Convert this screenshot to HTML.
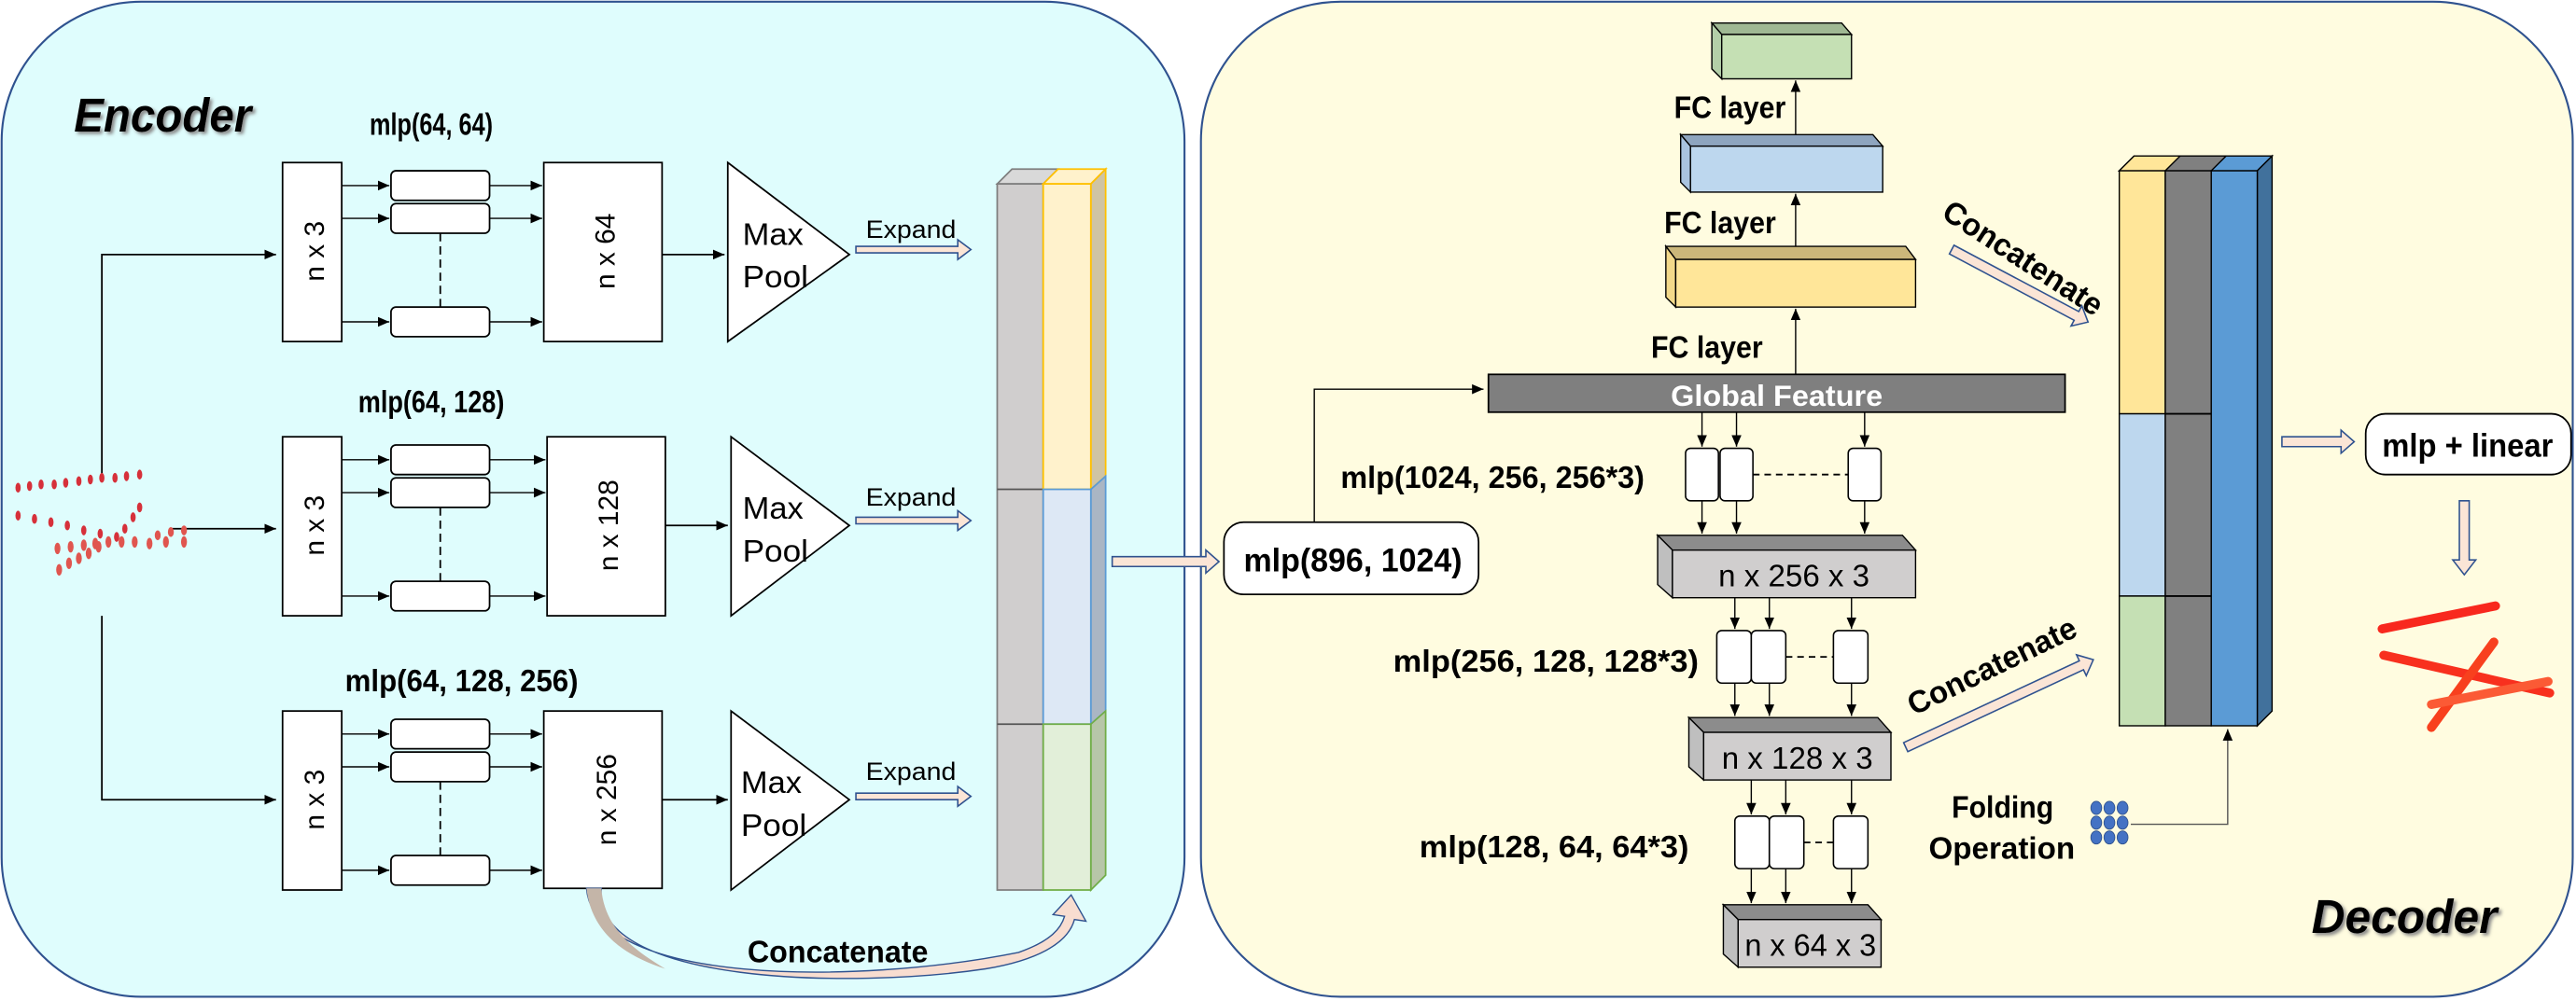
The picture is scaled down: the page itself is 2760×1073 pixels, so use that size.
<!DOCTYPE html>
<html><head><meta charset="utf-8"><style>
html,body{margin:0;padding:0;background:#fff;}
svg{display:block}
text{font-family:"Liberation Sans",sans-serif;}
</style></head><body>
<svg width="2760" height="1073" viewBox="0 0 1568 609.6" preserveAspectRatio="none" xmlns="http://www.w3.org/2000/svg">
<defs>
<marker id="ah" markerWidth="8" markerHeight="8" refX="7" refY="4" orient="auto" markerUnits="userSpaceOnUse"><path d="M0,1 L7,4 L0,7 Z" fill="#000"/></marker>
<filter id="sh"><feDropShadow dx="1.5" dy="1.5" stdDeviation="1" flood-color="#888"/></filter>
</defs>
<rect width="1568" height="609.6" fill="#fff"/>
<rect x="1" y="1" width="720" height="606" rx="85" fill="#dffdfd" stroke="#2f528f" stroke-width="1.2"/>
<rect x="731" y="1" width="835" height="606" rx="85" fill="#fffce0" stroke="#2f528f" stroke-width="1.2"/>

<text x="45" y="80" font-size="29" font-weight="bold" font-style="italic" filter="url(#sh)" textLength="108" lengthAdjust="spacingAndGlyphs">Encoder</text>
<text x="1407" y="568" font-size="29" font-weight="bold" font-style="italic" filter="url(#sh)" textLength="113" lengthAdjust="spacingAndGlyphs">Decoder</text>

<g stroke="#000" stroke-width="1" fill="none">
<path d="M62,290 V155 H168" marker-end="url(#ah)"/>
<path d="M62,375 V487 H168" marker-end="url(#ah)"/>
<path d="M105,322 H168" marker-end="url(#ah)"/>
</g>

<!-- row 1 -->
<text x="225" y="82" font-size="19" font-weight="bold" textLength="75" lengthAdjust="spacingAndGlyphs">mlp(64, 64)</text>
<rect x="172" y="99" width="36" height="109" fill="#fff" stroke="#000"/>
<text transform="translate(197,153) rotate(-90)" text-anchor="middle" font-size="17">n x 3</text>
<g stroke="#000" fill="#fff"><rect x="238" y="104" width="60" height="18" rx="3"/><rect x="238" y="124" width="60" height="18" rx="3"/><rect x="238" y="187" width="60" height="18" rx="3"/></g>
<path d="M268,142 V187" stroke="#000" stroke-dasharray="5,3"/>
<g stroke="#000" stroke-width="0.8" marker-end="url(#ah)"><path d="M208,113 H237"/><path d="M208,133 H237"/><path d="M208,196 H237"/><path d="M298,113 H330"/><path d="M298,133 H330"/><path d="M298,196 H330"/></g>
<rect x="331" y="99" width="72" height="109" fill="#fff" stroke="#000"/>
<text transform="translate(374,153) rotate(-90)" text-anchor="middle" font-size="17">n x 64</text>
<path d="M403,155 H441" stroke="#000" marker-end="url(#ah)"/>
<path d="M443,99 L517,155 L443,208 Z" fill="#fff" stroke="#000"/>
<text x="452" y="149" font-size="19" textLength="37" lengthAdjust="spacingAndGlyphs">Max</text><text x="452" y="175" font-size="19" textLength="40" lengthAdjust="spacingAndGlyphs">Pool</text>
<text x="527" y="145" font-size="15" textLength="55" lengthAdjust="spacingAndGlyphs">Expand</text>
<path d="M521,150 H583 V146 L591,152 L583,158 V154 H521 Z" fill="#fbe5d6" stroke="#2f528f" stroke-width="0.9"/>

<!-- row 2 -->
<text x="218" y="251" font-size="19" font-weight="bold" textLength="89" lengthAdjust="spacingAndGlyphs">mlp(64, 128)</text>
<rect x="172" y="266" width="36" height="109" fill="#fff" stroke="#000"/>
<text transform="translate(197,320) rotate(-90)" text-anchor="middle" font-size="17">n x 3</text>
<g stroke="#000" fill="#fff"><rect x="238" y="271" width="60" height="18" rx="3"/><rect x="238" y="291" width="60" height="18" rx="3"/><rect x="238" y="354" width="60" height="18" rx="3"/></g>
<path d="M268,309 V354" stroke="#000" stroke-dasharray="5,3"/>
<g stroke="#000" stroke-width="0.8" marker-end="url(#ah)"><path d="M208,280 H237"/><path d="M208,300 H237"/><path d="M208,363 H237"/><path d="M298,280 H332"/><path d="M298,300 H332"/><path d="M298,363 H332"/></g>
<rect x="333" y="266" width="72" height="109" fill="#fff" stroke="#000"/>
<text transform="translate(376,320) rotate(-90)" text-anchor="middle" font-size="17">n x 128</text>
<path d="M405,320 H443" stroke="#000" marker-end="url(#ah)"/>
<path d="M445,266 L517,320 L445,375 Z" fill="#fff" stroke="#000"/>
<text x="452" y="316" font-size="19" textLength="37" lengthAdjust="spacingAndGlyphs">Max</text><text x="452" y="342" font-size="19" textLength="40" lengthAdjust="spacingAndGlyphs">Pool</text>
<text x="527" y="308" font-size="15" textLength="55" lengthAdjust="spacingAndGlyphs">Expand</text>
<path d="M521,315 H583 V311 L591,317 L583,323 V319 H521 Z" fill="#fbe5d6" stroke="#2f528f" stroke-width="0.9"/>

<!-- row 3 -->
<text x="210" y="421" font-size="19" font-weight="bold" textLength="142" lengthAdjust="spacingAndGlyphs">mlp(64, 128, 256)</text>
<rect x="172" y="433" width="36" height="109" fill="#fff" stroke="#000"/>
<text transform="translate(197,487) rotate(-90)" text-anchor="middle" font-size="17">n x 3</text>
<g stroke="#000" fill="#fff"><rect x="238" y="438" width="60" height="18" rx="3"/><rect x="238" y="458" width="60" height="18" rx="3"/><rect x="238" y="521" width="60" height="18" rx="3"/></g>
<path d="M268,476 V521" stroke="#000" stroke-dasharray="5,3"/>
<g stroke="#000" stroke-width="0.8" marker-end="url(#ah)"><path d="M208,447 H237"/><path d="M208,467 H237"/><path d="M208,530 H237"/><path d="M298,447 H330"/><path d="M298,467 H330"/><path d="M298,530 H330"/></g>
<rect x="331" y="433" width="72" height="108" fill="#fff" stroke="#000"/>
<text transform="translate(375,487) rotate(-90)" text-anchor="middle" font-size="17">n x 256</text>
<path d="M403,487 H443" stroke="#000" marker-end="url(#ah)"/>
<path d="M445,433 L517,487 L445,542 Z" fill="#fff" stroke="#000"/>
<text x="451" y="483" font-size="19" textLength="37" lengthAdjust="spacingAndGlyphs">Max</text><text x="451" y="509" font-size="19" textLength="40" lengthAdjust="spacingAndGlyphs">Pool</text>
<text x="527" y="475" font-size="15" textLength="55" lengthAdjust="spacingAndGlyphs">Expand</text>
<path d="M521,483 H583 V479 L591,485 L583,491 V487 H521 Z" fill="#fbe5d6" stroke="#2f528f" stroke-width="0.9"/>

<!-- point cloud -->
<g fill="#d6303a">
<ellipse cx="11" cy="297" rx="1.6" ry="3"/><ellipse cx="18" cy="296" rx="1.6" ry="3"/><ellipse cx="25" cy="295" rx="1.6" ry="3"/><ellipse cx="33" cy="295" rx="1.6" ry="3"/><ellipse cx="40" cy="294" rx="1.6" ry="3"/><ellipse cx="48" cy="293" rx="1.6" ry="3"/><ellipse cx="55" cy="292" rx="1.6" ry="3"/><ellipse cx="62" cy="291" rx="1.6" ry="3"/><ellipse cx="70" cy="291" rx="1.6" ry="3"/><ellipse cx="77" cy="290" rx="1.6" ry="3"/><ellipse cx="85" cy="289" rx="1.6" ry="3"/>
<ellipse cx="11" cy="314" rx="1.6" ry="3"/><ellipse cx="21" cy="316" rx="1.6" ry="3"/><ellipse cx="31" cy="318" rx="1.6" ry="3"/><ellipse cx="41" cy="320" rx="1.6" ry="3"/><ellipse cx="51" cy="323" rx="1.6" ry="3"/><ellipse cx="61" cy="325" rx="1.6" ry="3"/><ellipse cx="71" cy="327" rx="1.6" ry="3"/><ellipse cx="76" cy="322" rx="1.6" ry="3"/><ellipse cx="81" cy="315" rx="1.6" ry="3"/><ellipse cx="85" cy="309" rx="1.6" ry="3"/>
</g>
<g fill="#e0554f">
<ellipse cx="35" cy="334" rx="1.8" ry="3.5"/><ellipse cx="43" cy="333" rx="1.8" ry="3.5"/><ellipse cx="51" cy="332" rx="1.8" ry="3.5"/><ellipse cx="58" cy="331" rx="1.8" ry="3.5"/><ellipse cx="66" cy="330" rx="1.8" ry="3.5"/><ellipse cx="74" cy="330" rx="1.8" ry="3.5"/><ellipse cx="82" cy="330" rx="1.8" ry="3.5"/><ellipse cx="91" cy="331" rx="1.8" ry="3.5"/><ellipse cx="101" cy="330" rx="1.8" ry="3.5"/><ellipse cx="112" cy="330" rx="1.8" ry="3.5"/><ellipse cx="112" cy="323" rx="1.8" ry="3"/><ellipse cx="104" cy="324" rx="1.8" ry="3"/><ellipse cx="96" cy="326" rx="1.8" ry="3"/>
<ellipse cx="36" cy="347" rx="1.8" ry="3.5"/><ellipse cx="42" cy="343" rx="1.8" ry="3.5"/><ellipse cx="48" cy="340" rx="1.8" ry="3.5"/><ellipse cx="54" cy="337" rx="1.8" ry="3.5"/><ellipse cx="60" cy="333" rx="1.8" ry="3.5"/>
</g>

<!-- concat column encoder -->
<path d="M607,112 L616,103 L644,103 L635,112 Z" fill="#d9d9d9" stroke="#7f7f7f"/>
<rect x="607" y="112" width="28" height="430" fill="#d0cece" stroke="#7f7f7f"/>
<path d="M607,298 H635 M607,441 H635" stroke="#555" stroke-width="1"/>
<path d="M635,112 L644,103 L673,103 L664,112 Z" fill="#fff2cc" stroke="#ffc000"/>
<path d="M664,112 L673,103 L673,290 L664,298 Z" fill="#cfc4a4" stroke="#ffc000"/>
<rect x="635" y="112" width="29" height="186" fill="#fff2cc" stroke="#ffc000"/>
<path d="M664,298 L673,290 L673,433 L664,441 Z" fill="#aab6c4" stroke="#5b9bd5"/>
<rect x="635" y="298" width="29" height="143" fill="#dde8f5" stroke="#5b9bd5"/>
<path d="M664,441 L673,433 L673,533 L664,542 Z" fill="#b7c6a8" stroke="#70ad47"/>
<rect x="635" y="441" width="29" height="101" fill="#e2efd9" stroke="#70ad47"/>

<!-- curved concatenate arrow -->
<path d="M357,541 C362,600 520,600 620,580 C640,573 646,565 648,558 L641,557 L652,545 L661,561 L654,560 C650,575 630,585 600,590 C520,602 360,600 366,541 Z" fill="#f8ddd0" stroke="#2f528f" stroke-width="0.8"/>
<path d="M357,541 C360,568 380,582 405,590 C385,578 368,565 366,541 Z" fill="#c4b5a8"/>
<text x="455" y="586" font-size="19" font-weight="bold" textLength="110" lengthAdjust="spacingAndGlyphs">Concatenate</text>

<!-- to decoder -->
<path d="M677,339 H734 V335 L742,342 L734,349 V345 H677 Z" fill="#fbe5d6" stroke="#2f528f" stroke-width="0.9"/>
<rect x="745" y="318" width="155" height="44" rx="12" fill="#fff" stroke="#000"/>
<text x="757" y="348" font-size="20" font-weight="bold" textLength="133" lengthAdjust="spacingAndGlyphs">mlp(896, 1024)</text>
<path d="M800,318 V237 H903" stroke="#000" stroke-width="0.8" fill="none" marker-end="url(#ah)"/>

<!-- global feature -->
<rect x="906" y="228" width="351" height="23" fill="#7f7f7f" stroke="#000"/>
<text x="1017" y="247" font-size="18" font-weight="bold" fill="#fff" textLength="129" lengthAdjust="spacingAndGlyphs">Global Feature</text>

<!-- FC stack -->
<g stroke="#000" stroke-width="0.8" marker-end="url(#ah)">
<path d="M1093,228 V188"/><path d="M1093,150 V118"/><path d="M1093,82 V49"/>
</g>
<path d="M1014,150 L1020,158 H1166 L1160,150 Z" fill="#cbb77a" stroke="#000" stroke-width="0.8"/>
<path d="M1014,150 V181 L1020,187 V158 Z" fill="#f3d98a" stroke="#000" stroke-width="0.8"/>
<rect x="1020" y="158" width="146" height="29" fill="#ffe699" stroke="#000" stroke-width="0.8"/>
<text x="1005" y="218" font-size="19" font-weight="bold" textLength="68" lengthAdjust="spacingAndGlyphs">FC layer</text>
<path d="M1023,82 L1029,89 H1146 L1140,82 Z" fill="#8ea5bf" stroke="#000" stroke-width="0.8"/>
<path d="M1023,82 V111 L1029,117 V89 Z" fill="#a9c3df" stroke="#000" stroke-width="0.8"/>
<rect x="1029" y="89" width="117" height="28" fill="#bdd7ee" stroke="#000" stroke-width="0.8"/>
<text x="1013" y="142" font-size="19" font-weight="bold" textLength="68" lengthAdjust="spacingAndGlyphs">FC layer</text>
<path d="M1042,14 L1048,21 H1127 L1121,14 Z" fill="#9fb893" stroke="#000" stroke-width="0.8"/>
<path d="M1042,14 V42 L1048,48 V21 Z" fill="#b3cfa8" stroke="#000" stroke-width="0.8"/>
<rect x="1048" y="21" width="79" height="27" fill="#c5e0b4" stroke="#000" stroke-width="0.8"/>
<text x="1019" y="72" font-size="19" font-weight="bold" textLength="68" lengthAdjust="spacingAndGlyphs">FC layer</text>

<!-- mlp groups -->
<g stroke="#000" stroke-width="0.8" marker-end="url(#ah)">
<path d="M1036,251 V272"/><path d="M1057,251 V272"/><path d="M1135,251 V272"/><path d="M1036,305 V325"/><path d="M1057,305 V325"/><path d="M1135,305 V325"/>
<path d="M1056,364 V383"/><path d="M1077,364 V383"/><path d="M1127,364 V383"/><path d="M1056,416 V436"/><path d="M1077,416 V436"/><path d="M1127,416 V436"/>
<path d="M1066,475 V496"/><path d="M1087,475 V496"/><path d="M1127,475 V496"/><path d="M1066,529 V550"/><path d="M1087,529 V550"/><path d="M1127,529 V550"/>
</g>
<g fill="#fff" stroke="#000" stroke-width="0.9">
<rect x="1026" y="273" width="20" height="32" rx="3"/><rect x="1047" y="273" width="20" height="32" rx="3"/><rect x="1125" y="273" width="20" height="32" rx="3"/>
<rect x="1045" y="384" width="21" height="32" rx="3"/><rect x="1066" y="384" width="21" height="32" rx="3"/><rect x="1116" y="384" width="21" height="32" rx="3"/>
<rect x="1056" y="497" width="21" height="32" rx="3"/><rect x="1077" y="497" width="21" height="32" rx="3"/><rect x="1116" y="497" width="21" height="32" rx="3"/>
</g>
<path d="M1067,289 H1125 M1087,400 H1116 M1098,513 H1116" stroke="#000" stroke-dasharray="4,3"/>
<text x="816" y="297" font-size="19" font-weight="bold" textLength="185" lengthAdjust="spacingAndGlyphs">mlp(1024, 256, 256*3)</text>
<text x="848" y="409" font-size="19" font-weight="bold" textLength="186" lengthAdjust="spacingAndGlyphs">mlp(256, 128, 128*3)</text>
<text x="864" y="522" font-size="19" font-weight="bold" textLength="164" lengthAdjust="spacingAndGlyphs">mlp(128, 64, 64*3)</text>

<!-- 3d gray boxes -->
<g stroke="#000" stroke-width="0.8">
<path d="M1009,326 L1018,335 H1166 L1158,326 Z" fill="#8c8c8c"/><path d="M1009,326 V356 L1018,364 V335 Z" fill="#bfbfbf"/><rect x="1018" y="335" width="148" height="29" fill="#d0cece"/>
<path d="M1028,437 L1037,446 H1151 L1143,437 Z" fill="#8c8c8c"/><path d="M1028,437 V467 L1037,475 V446 Z" fill="#bfbfbf"/><rect x="1037" y="446" width="114" height="29" fill="#d0cece"/>
<path d="M1049,551 L1058,560 H1145 L1137,551 Z" fill="#8c8c8c"/><path d="M1049,551 V581 L1058,589 V560 Z" fill="#bfbfbf"/><rect x="1058" y="560" width="87" height="29" fill="#d0cece"/>
</g>
<text x="1046" y="357" font-size="19" textLength="92" lengthAdjust="spacingAndGlyphs">n x 256 x 3</text>
<text x="1048" y="468" font-size="19" textLength="92" lengthAdjust="spacingAndGlyphs">n x 128 x 3</text>
<text x="1062" y="582" font-size="19" textLength="80" lengthAdjust="spacingAndGlyphs">n x 64 x 3</text>

<!-- concatenate arrows -->
<g transform="translate(1188,152) rotate(28)"><path d="M0,-3 H86 V-7 L94,0 L86,7 V3 H0 Z" fill="#fbe5d6" stroke="#2f528f" stroke-width="0.9"/></g>
<text transform="translate(1181,132) rotate(33)" font-size="19" font-weight="bold" textLength="112" lengthAdjust="spacingAndGlyphs">Concatenate</text>
<g transform="translate(1160,455) rotate(-25)"><path d="M0,-3 H118 V-7 L126,0 L118,7 V3 H0 Z" fill="#fbe5d6" stroke="#2f528f" stroke-width="0.9"/></g>
<text transform="translate(1165,436) rotate(-26)" font-size="19" font-weight="bold" textLength="112" lengthAdjust="spacingAndGlyphs">Concatenate</text>

<!-- right block -->
<path d="M1290,104 L1299,95 H1383 L1374,104 Z" fill="#808080" stroke="#000" stroke-width="0.8"/>
<path d="M1290,104 L1299,95 H1327 L1318,104 Z" fill="#ffe699" stroke="#000" stroke-width="0.8"/>
<path d="M1346,104 L1355,95 H1383 L1374,104 Z" fill="#5b9bd5" stroke="#000" stroke-width="0.8"/>
<path d="M1374,104 L1383,95 V433 L1374,442 Z" fill="#41719c" stroke="#000" stroke-width="0.8"/>
<rect x="1290" y="104" width="28" height="148" fill="#ffe699" stroke="#000" stroke-width="0.8"/>
<rect x="1290" y="252" width="28" height="111" fill="#bdd7ee" stroke="#000" stroke-width="0.8"/>
<rect x="1290" y="363" width="28" height="79" fill="#c5e0b4" stroke="#000" stroke-width="0.8"/>
<rect x="1318" y="104" width="28" height="338" fill="#808080" stroke="#000" stroke-width="0.8"/>
<path d="M1318,252 H1346 M1318,363 H1346" stroke="#000"/>
<rect x="1346" y="104" width="28" height="338" fill="#5b9bd5" stroke="#000" stroke-width="0.8"/>

<path d="M1389,266 H1425 V262 L1433,269 L1425,276 V272 H1389 Z" fill="#fbe5d6" stroke="#2f528f" stroke-width="0.9"/>
<rect x="1440" y="252" width="125" height="37" rx="12" fill="#fff" stroke="#000"/>
<text x="1450" y="278" font-size="20" font-weight="bold" textLength="104" lengthAdjust="spacingAndGlyphs">mlp + linear</text>
<path d="M1497,305 V341 H1493 L1500,350 L1507,341 H1503 V305 Z" fill="#fbe5d6" stroke="#2f528f" stroke-width="0.9"/>
<g stroke-linecap="round" stroke-width="5.5" fill="none">
<path d="M1450,383 L1519,369" stroke="#f8281e"/>
<path d="M1451,399 L1552,422" stroke="#f8301e"/>
<path d="M1518,391 L1480,443" stroke="#f8401e"/>
<path d="M1480,429 L1551,415" stroke="#fb5a35"/>
</g>

<!-- folding -->
<text x="1188" y="498" font-size="19" font-weight="bold" textLength="62" lengthAdjust="spacingAndGlyphs">Folding</text>
<text x="1174" y="523" font-size="19" font-weight="bold" textLength="89" lengthAdjust="spacingAndGlyphs">Operation</text>
<g fill="#4472c4" stroke="#2f528f" stroke-width="0.5">
<ellipse cx="1276" cy="492" rx="3.3" ry="4"/><ellipse cx="1284" cy="492" rx="3.3" ry="4"/><ellipse cx="1292" cy="492" rx="3.3" ry="4"/>
<ellipse cx="1276" cy="501" rx="3.3" ry="4"/><ellipse cx="1284" cy="501" rx="3.3" ry="4"/><ellipse cx="1292" cy="501" rx="3.3" ry="4"/>
<ellipse cx="1276" cy="510" rx="3.3" ry="4"/><ellipse cx="1284" cy="510" rx="3.3" ry="4"/><ellipse cx="1292" cy="510" rx="3.3" ry="4"/>
</g>
<path d="M1297,502 H1356 V444" stroke="#555" stroke-width="0.8" fill="none" marker-end="url(#ah)"/>
</svg>
</body></html>
